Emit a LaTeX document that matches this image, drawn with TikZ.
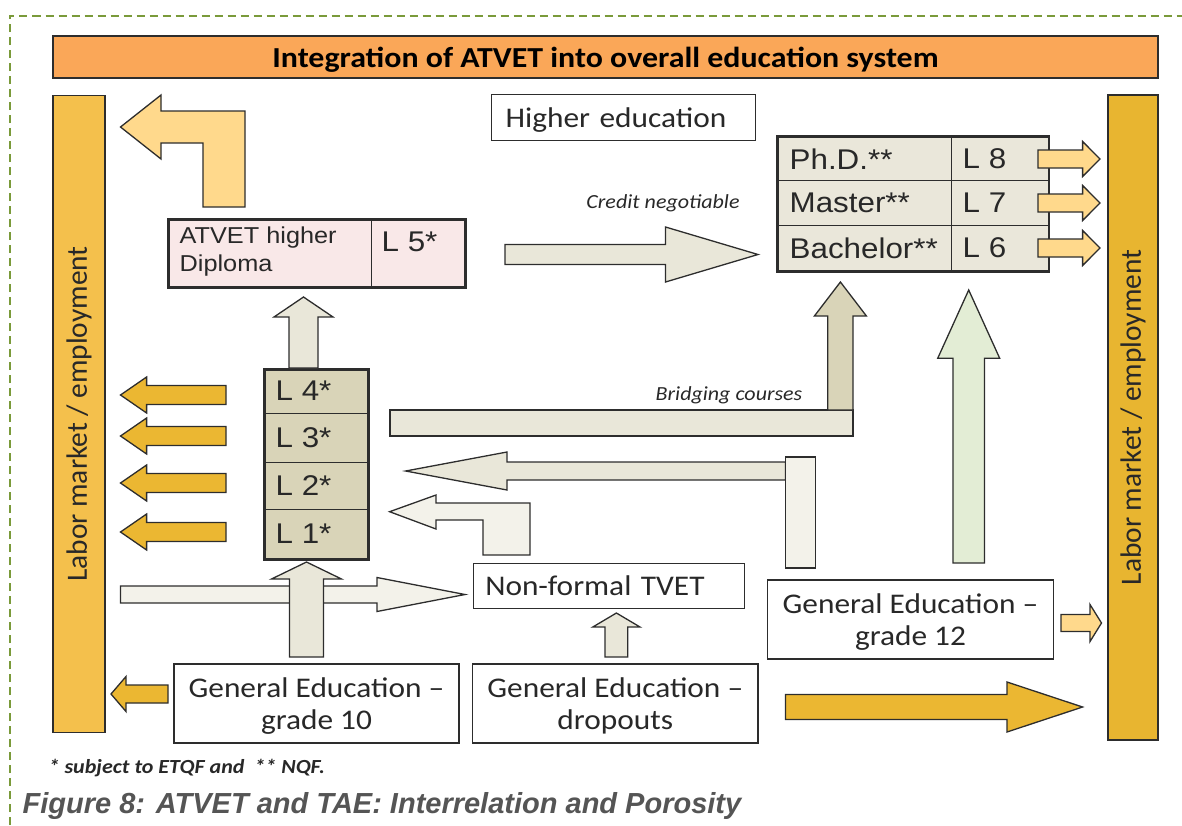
\documentclass[tikz,border=0pt]{standalone}
\usepackage{fontspec}
\setmainfont{Carlito}[FakeStretch=1.1]
\setsansfont{Liberation Sans}[FakeStretch=1.1]
\newfontfamily\plaincal{Carlito}
\newfontfamily\captionfont{Liberation Sans}

\definecolor{edge}{RGB}{45,45,45}
\definecolor{ink}{RGB}{40,40,40}
\definecolor{titleorange}{RGB}{250,167,88}
\definecolor{labourleft}{RGB}{244,192,76}
\definecolor{labourright}{RGB}{232,181,48}
\definecolor{gold}{RGB}{235,183,50}
\definecolor{paleyellow}{RGB}{255,217,140}
\definecolor{beige}{RGB}{233,231,217}
\definecolor{offwhite}{RGB}{243,242,234}
\definecolor{khaki}{RGB}{217,212,184}
\definecolor{tablefill}{RGB}{234,231,218}
\definecolor{pinkfill}{RGB}{249,232,232}
\definecolor{palegreen}{RGB}{227,237,213}
\definecolor{framegreen}{RGB}{122,154,58}
\definecolor{captiongray}{RGB}{85,85,85}

% straight block arrows: style, tail, head base, tip, centre, half shaft, half head
\newcommand{\blockh}[7]{\draw[#1] (#2,#5-#6) -- (#3,#5-#6) -- (#3,#5-#7) -- (#4,#5)
  -- (#3,#5+#7) -- (#3,#5+#6) -- (#2,#5+#6) -- cycle;}
\newcommand{\blockv}[7]{\draw[#1] (#5-#6,#2) -- (#5-#6,#3) -- (#5-#7,#3) -- (#5,#4)
  -- (#5+#7,#3) -- (#5+#6,#3) -- (#5+#6,#2) -- cycle;}

\begin{document}
\begin{tikzpicture}[x=1pt, y=-1pt, line width=1.3pt,
    calfont/.style={font=\fontsize{28.5}{32}\selectfont, text=ink},
    arifont/.style={font=\sffamily\fontsize{28.5}{32}\selectfont, text=ink},
    box/.style={draw=edge, fill=white, inner sep=0pt, text depth=0pt, calfont},
    strongbox/.style={draw=edge, line width=2.8pt, inner sep=0pt},
    divider/.style={draw=edge, line width=1pt},
    note/.style={font=\itshape\fontsize{20}{22}\selectfont, text=ink},
    goldarr/.style={draw=edge, fill=gold},
    palearr/.style={draw=edge, fill=paleyellow},
    beigearr/.style={draw=edge, fill=beige},
    whitearr/.style={draw=edge, fill=offwhite},
    khakiarr/.style={draw=edge, fill=khaki},
    greenarr/.style={draw=edge, fill=palegreen}
  ]
  \useasboundingbox (0,0) rectangle (1182,825);

  \draw[framegreen, line width=2pt, dash pattern=on 8pt off 5pt] (9.5,825) -- (9.5,16) -- (1182,16);

  \node[draw=edge, fill=titleorange, minimum width=1105, minimum height=42, inner sep=0pt,
    text depth=0pt, font=\bfseries\fontsize{29}{32}\selectfont] (title) at (605.5,57)
    {Integration of ATVET into overall education system};

  \node[draw=edge, fill=labourleft, rotate=90, minimum width=637, minimum height=52,
    inner sep=0pt, font=\plaincal\fontsize{29.4}{32}\selectfont, text=ink] (labl) at (79,414)
    {Labor market / employment};
  \node[draw=edge, fill=labourright, rotate=90, minimum width=645, minimum height=50,
    inner sep=0pt, font=\plaincal\fontsize{29.4}{32}\selectfont, text=ink] (labr) at (1133,417.5)
    {Labor market / employment};

  % back to the labour market
  \draw[palearr] (120.5,127) -- (161,95) -- (161,111) -- (245,111) -- (245,207) -- (203,207)
    -- (203,143) -- (161,143) -- (161,159) -- cycle;

  \node[box, anchor=north west, minimum height=46, text width=236, inner xsep=14pt, align=left]
    (higher) at (491,94) {Higher education};

  \node[strongbox, fill=pinkfill, anchor=north west, minimum width=297, minimum height=68]
    (dipl) at (167,218) {};
  \draw[divider] (371,218) -- (371,286);
  \node[font=\sffamily\fontsize{23}{28}\selectfont, text=ink, anchor=west, align=left,
    inner sep=0pt] (dipltxt) at (179,252) {ATVET higher\\Diploma};
  \node[arifont, anchor=west, inner sep=0pt] (lfive) at (381,242) {L 5*};

  \blockh{beigearr}{505}{665.5}{758}{254.5}{10}{27.5}
  \node[note] (credit) at (663,203) {Credit negotiable};

  \node[strongbox, fill=tablefill, anchor=north west, minimum width=271.5, minimum height=135]
    (degrees) at (776,135) {};
  \draw[divider] (776,180) -- (1047.5,180) (776,225) -- (1047.5,225) (951,135) -- (951,270);
  \foreach \deg/\lv/\yy in {Ph.D./8/159, Master/7/203, Bachelor/6/248} {
    \node[arifont, anchor=west, inner sep=0pt] (deg\lv) at (789,\yy) {\deg**};
    \node[arifont, anchor=west, inner sep=0pt] (lv\lv) at (962,\yy) {L \lv};
    \blockh{palearr}{1038}{1082.6}{1100}{\yy}{9}{17.5}
  }

  \node[strongbox, fill=khaki, anchor=north west, minimum width=104, minimum height=190]
    (levels) at (263,368) {};
  \foreach \yy in {413,462,509}
    \draw[divider] (263,\yy) -- (367,\yy);
  \foreach \lv/\yy in {4/390.5, 3/437.5, 2/485.5, 1/533.5}
    \node[arifont, anchor=west, inner sep=0pt] (lev\lv) at (275,\yy) {L \lv*};

  \blockv{beigearr}{368}{317}{297}{303.5}{14.5}{29.5}
  \foreach \yy in {395,436,483,532} {
    \blockh{goldarr}{226}{146.6}{120.5}{\yy}{9.5}{18}
  }

  % bridging courses
  \draw[beigearr] (390,410) rectangle (853,436);
  \blockv{khakiarr}{410}{316}{282}{840.4}{12.6}{26}
  \node[note] (bridge) at (729,395) {Bridging courses};

  \blockh{beigearr}{785.5}{507}{405.6}{471}{9}{19}
  \draw[whitearr] (785.5,457) rectangle (815.4,568);

  \draw[whitearr] (389.6,511.7) -- (436,495) -- (436,503) -- (530,503) -- (530,555) -- (483,555)
    -- (483,520) -- (436,520) -- (436,529) -- cycle;

  \blockv{greenarr}{563}{358.3}{290}{968.7}{15.7}{31}

  % non-formal and general education
  \blockh{whitearr}{120.5}{377}{465}{594.5}{8.5}{17}
  \node[box, anchor=north west, minimum height=45.3, text width=247.4, inner xsep=12pt, align=left]
    (nonformal) at (472.6,562.7) {Non-formal TVET};
  \blockv{beigearr}{657}{579}{562}{306.5}{17}{35}

  \node[box, minimum width=285, minimum height=79, align=center] (grten) at (316.5,703.5)
    {General Education --\\grade 10};
  \blockh{goldarr}{168}{126}{111}{694}{9}{17.5}

  \node[box, minimum width=285.4, minimum height=79, align=center] (dropout) at (615.3,703.5)
    {General Education --\\dropouts};
  \blockv{beigearr}{657}{627}{613}{616.4}{11.4}{23.6}

  \node[box, minimum width=286.2, minimum height=79, align=center] (grtwelve) at (910.5,619.5)
    {General Education --\\grade 12};
  \blockh{palearr}{1061}{1090}{1101.5}{623}{8.5}{18.5}

  \blockh{goldarr}{785.5}{1007}{1082.6}{707}{12.5}{25}

  \node[font=\bfseries\itshape\fontsize{20}{22}\selectfont, text=ink, anchor=west, inner sep=0pt]
    (foot) at (48,768) {* subject to ETQF and\ \ ** NQF.};
  \node[font=\captionfont\bfseries\itshape\fontsize{29}{32}\selectfont, text=captiongray,
    anchor=west, inner sep=0pt] (caption) at (22,806)
    {Figure 8: ATVET and TAE: Interrelation and Porosity};
\end{tikzpicture}
\end{document}
